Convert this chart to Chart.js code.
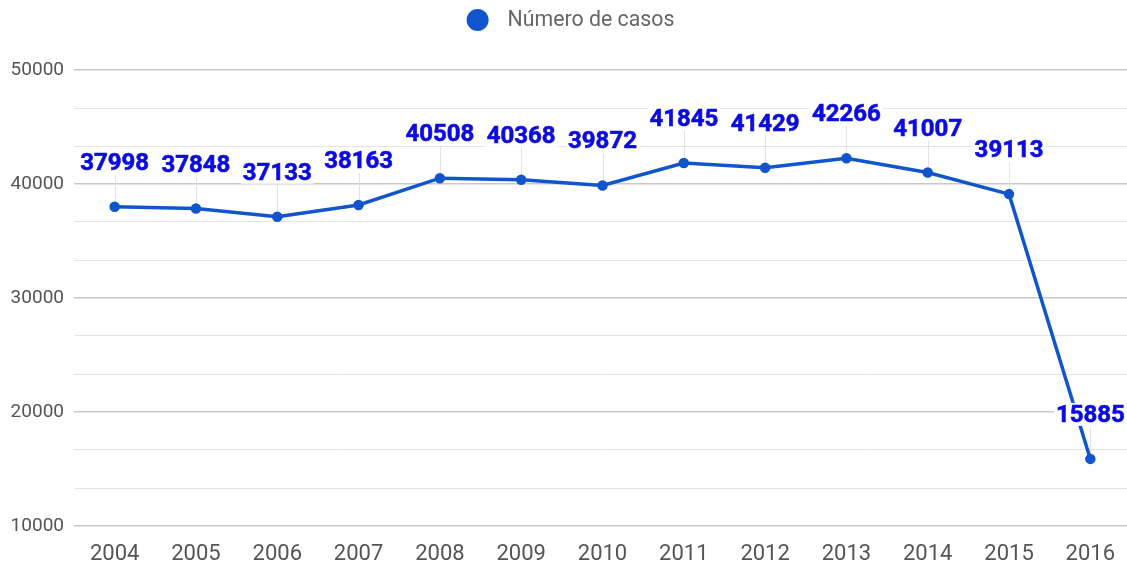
<!DOCTYPE html>
<html>
<head>
<meta charset="utf-8">
<script src="https://cdn.jsdelivr.net/npm/chart.js@4.4.1/dist/chart.umd.min.js"></script>
<style>
  html, body { margin: 0; padding: 0; background: #fff; overflow: hidden; }
  #wrap { width: 1131px; height: 566px; position: relative; }
</style>
</head>
<body>
<div id="wrap"><canvas id="chartCasos"></canvas></div>
<script>
// ---- Data ----
var years = ['2004', '2005', '2006', '2007', '2008', '2009', '2010', '2011', '2012', '2013', '2014', '2015', '2016'];
var casos = [37998, 37848, 37133, 38163, 40508, 40368, 39872, 41845, 41429, 42266, 41007, 39113, 15885];
var seriesName = 'Número de casos';
var yMin = 10000, yMax = 50000, yMajor = 10000;

var lineColor = '#1155cc';
var labelColor = '#0c0ce0';

// gridlines: one labelled line every 10000, two light ones between
var gridSteps = [];
for (var i = 0; i <= 12; i++) gridSteps.push(yMin + i * yMajor / 3);

function isMajor(v) {
  return Math.abs(v / yMajor - Math.round(v / yMajor)) < 1e-9;
}

// ---- Plugins ----
var valueLabels = {
  id: 'valueLabels',
  beforeDatasetsDraw: function(chart) {
    var ctx = chart.ctx;
    var meta = chart.getDatasetMeta(0);
    ctx.save();
    ctx.strokeStyle = '#e2e2e2';
    ctx.lineWidth = 1;
    meta.data.forEach(function(pt) {
      ctx.beginPath();
      ctx.moveTo(Math.round(pt.x) + 0.5, pt.y);
      ctx.lineTo(Math.round(pt.x) + 0.5, pt.y - 32);
      ctx.stroke();
    });
    ctx.restore();
  },
  afterDatasetsDraw: function(chart) {
    var ctx = chart.ctx;
    var meta = chart.getDatasetMeta(0);
    var vals = chart.data.datasets[0].data;
    ctx.save();
    ctx.font = 'bold 24px Roboto';
    ctx.textAlign = 'center';
    ctx.textBaseline = 'middle';
    meta.data.forEach(function(pt, i) {
      var txt = String(vals[i]);
      var w = ctx.measureText(txt).width;
      var cy = pt.y - 44;
      ctx.fillStyle = '#ffffff';
      ctx.fillRect(pt.x - w / 2 - 2, cy - 12, w + 4, 23);
      ctx.fillStyle = labelColor;
      ctx.fillText(txt, pt.x, cy + 1);
      ctx.strokeStyle = labelColor;
      ctx.lineWidth = 0.6;
      ctx.strokeText(txt, pt.x, cy + 1);
    });
    ctx.restore();
  }
};

var topLegend = {
  id: 'topLegend',
  afterDraw: function(chart) {
    var ctx = chart.ctx;
    var txt = chart.data.datasets[0].label;
    ctx.save();
    ctx.font = '21.3px Roboto';
    var tw = ctx.measureText(txt).width;
    var total = 22 + 19 + tw;
    var x0 = (chart.width - total) / 2 + 5;
    ctx.fillStyle = lineColor;
    ctx.beginPath();
    ctx.arc(x0 + 11, 20, 11, 0, Math.PI * 2);
    ctx.fill();
    ctx.fillStyle = '#666666';
    ctx.textAlign = 'left';
    ctx.textBaseline = 'middle';
    ctx.fillText(txt, x0 + 41, 21);
    ctx.restore();
  }
};

// ---- Chart ----
var ctxCasos = document.getElementById('chartCasos').getContext('2d');
var chartCasos = new Chart(ctxCasos, {
  type: 'line',
  data: { labels: years, datasets: [{
    label: seriesName, data: casos,
    borderColor: lineColor, backgroundColor: lineColor,
    borderWidth: 3.5, pointRadius: 3.5, pointHoverRadius: 3.5,
    fill: false, tension: 0, clip: 10
  }] },
  options: {
    responsive: true, maintainAspectRatio: false,
    animation: false,
    layout: { autoPadding: false, padding: { top: 70, right: 0, left: 0, bottom: 0 } },
    plugins: {
      legend: { display: false },
      tooltip: { enabled: false }
    },
    scales: {
      x: {
        offset: true,
        grid: { display: false, drawTicks: false },
        border: { display: false },
        ticks: { color: '#555555', font: { family: 'Roboto', size: 22 }, padding: 15, autoSkip: false, maxRotation: 0 },
        afterFit: function(s) { s.height = 40; s.paddingLeft = 0; s.paddingRight = 0; }
      },
      y: {
        min: yMin, max: yMax,
        afterBuildTicks: function(s) { s.ticks = gridSteps.map(function(v) { return { value: v }; }); },
        afterFit: function(s) { s.width = 74; s.paddingTop = 0; s.paddingBottom = 0; },
        border: { display: false },
        grid: {
          drawTicks: false,
          color: function(c) { return c.tick && isMajor(c.tick.value) ? '#c8c8c8' : '#e4e4e4'; },
          lineWidth: function(c) { return c.tick && isMajor(c.tick.value) ? 1.5 : 1; }
        },
        ticks: {
          color: '#555555', font: { family: 'Roboto', size: 19 }, padding: 10, autoSkip: false,
          callback: function(v) { return isMajor(v) ? String(Math.round(v)) : ''; }
        }
      }
    }
  },
  plugins: [valueLabels, topLegend]
});
</script>
</body>
</html>
